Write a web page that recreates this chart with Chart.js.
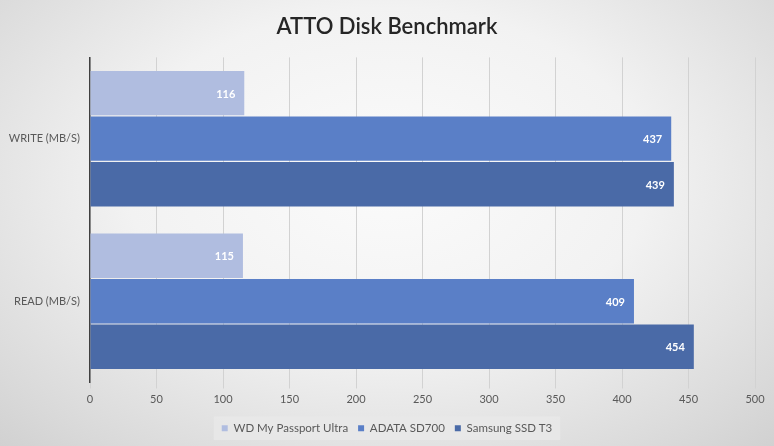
<!DOCTYPE html>
<html><head><meta charset="utf-8">
<script src="https://cdn.jsdelivr.net/npm/chart.js@4"></script>
<style>
html,body{margin:0;padding:0;}
body{width:774px;height:446px;overflow:hidden;background:radial-gradient(ellipse 75% 85% at 50% 40%, #fbfbfb 0%, #f2f2f2 45%, #d9d9d9 85%, #cfcfcf 100%);}
#wrap{width:774px;height:446px;position:relative;}
</style></head>
<body><div id="wrap"><canvas id="c" width="774" height="446"></canvas></div>
<script>
const categories = ["WRITE (MB/S)", "READ (MB/S)"];
const seriesNames = ["WD My Passport Ultra", "ADATA SD700", "Samsung SSD T3"];
const wdValues = [116, 115];
const adataValues = [437, 409];
const samsungValues = [439, 454];
const xTicks = [0, 50, 100, 150, 200, 250, 300, 350, 400, 450, 500];
const colors = ["#b0bde0", "#5a7fc7", "#4a6aa7"];

const FONT = "Lato, 'Open Sans', sans-serif";

const legendBg = {
  id: 'legendBg',
  beforeDraw(chart) {
    const lg = chart.legend;
    if (!lg || !lg.legendHitBoxes || !lg.legendHitBoxes.length) return;
    const hb = lg.legendHitBoxes;
    let l = Infinity, r = -Infinity, t = Infinity, b = -Infinity;
    hb.forEach(h => { l = Math.min(l, h.left); r = Math.max(r, h.left + h.width); t = Math.min(t, h.top); b = Math.max(b, h.top + h.height); });
    const ctx = chart.ctx;
    ctx.save();
    ctx.fillStyle = 'rgba(232,232,232,0.9)';
    ctx.fillRect(l - 8, t - 6, (r - l) + 16, (b - t) + 12);
    ctx.restore();
  }
};

const barLabels = {
  id: 'barLabels',
  afterDatasetsDraw(chart) {
    const ctx = chart.ctx;
    ctx.save();
    ctx.font = "bold 11px " + FONT;
    ctx.fillStyle = '#ffffff';
    ctx.textAlign = 'right';
    ctx.textBaseline = 'middle';
    chart.data.datasets.forEach((ds, i) => {
      chart.getDatasetMeta(i).data.forEach((bar, j) => {
        ctx.fillText(String(ds.data[j]), bar.x - 9, bar.y + 1);
      });
    });
    ctx.restore();
  }
};

new Chart(document.getElementById('c'), {
  type: 'bar',
  data: {
    labels: categories,
    datasets: [
      { label: seriesNames[0], data: wdValues, backgroundColor: colors[0] },
      { label: seriesNames[1], data: adataValues, backgroundColor: colors[1] },
      { label: seriesNames[2], data: samsungValues, backgroundColor: colors[2] }
    ]
  },
  options: {
    indexAxis: 'y',
    responsive: false,
    animation: false,
    devicePixelRatio: 1,
    layout: { padding: { left: 0, right: 0, top: 0, bottom: 2 } },
    datasets: { bar: { categoryPercentage: 0.84, barPercentage: 0.975 } },
    scales: {
      x: {
        min: 0, max: 500,
        afterBuildTicks(s) { s.ticks = xTicks.map(v => ({ value: v })); },
        grid: { color: '#d2d2d2', lineWidth: 1, drawTicks: true, tickLength: 6 },
        border: { display: false },
        ticks: { color: '#595959', font: { family: FONT, size: 11 }, padding: 4 },
        afterFit(s) { s.height = 30; s.paddingRight = 19; }
      },
      y: {
        grid: { display: false },
        border: { display: true, color: '#404040', width: 1.5 },
        ticks: { color: '#595959', font: { family: FONT, size: 11 }, padding: 2 },
        afterFit(s) { s.width = 90; }
      }
    },
    plugins: {
      title: {
        display: true, text: 'ATTO Disk Benchmark', color: '#262626',
        font: { family: FONT, size: 22, weight: '600' },
        padding: { top: 14, bottom: 17 }
      },
      legend: {
        position: 'bottom',
        labels: { color: '#595959', font: { family: FONT, size: 11.5 }, boxWidth: 6, boxHeight: 6, padding: 10 }
      },
      tooltip: { enabled: false }
    }
  },
  plugins: [legendBg, barLabels]
});
</script></body></html>
